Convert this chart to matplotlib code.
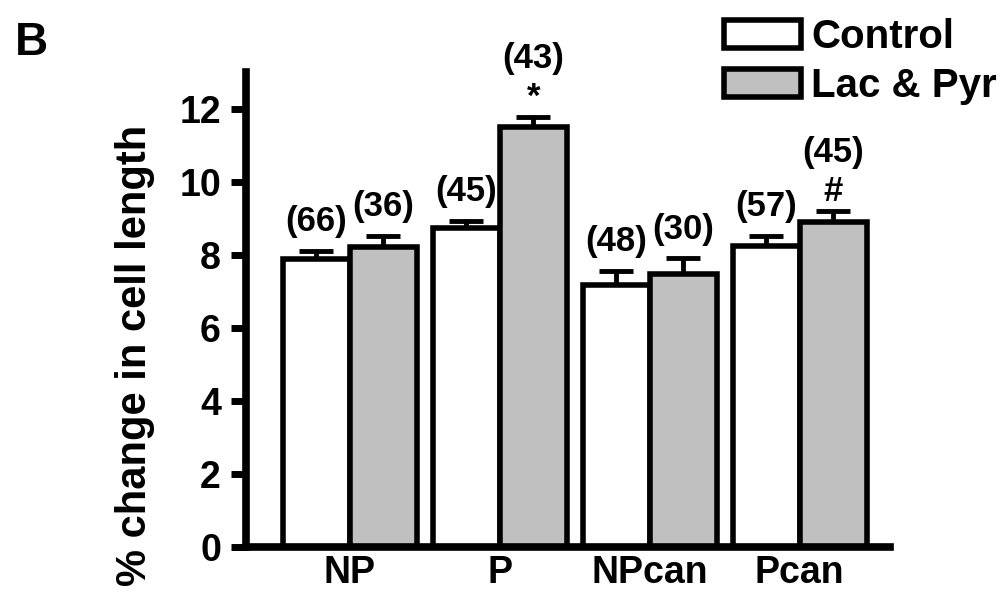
import matplotlib
matplotlib.use("Agg")
import matplotlib.pyplot as plt
import numpy as np

groups = ["NP", "P", "NPcan", "Pcan"]
control = [7.87, 8.73, 7.18, 8.24]
control_se = [0.24, 0.20, 0.38, 0.28]
lacpyr = [8.20, 11.49, 7.47, 8.88]
lacpyr_se = [0.32, 0.27, 0.43, 0.32]
n_control = ["(66)", "(45)", "(48)", "(57)"]
n_lacpyr = ["(36)", "(43)", "(30)", "(45)"]
sig_lacpyr = ["", "*", "", "#"]
yticks = [0, 2, 4, 6, 8, 10, 12]

plt.rcParams["font.family"] = ["Liberation Sans", "DejaVu Sans"]
plt.rcParams["font.weight"] = "bold"

fig = plt.figure(figsize=(10.04, 5.98), dpi=100)
ax = fig.add_axes([0.245, 0.0858, 0.641, 0.7938])

x = np.arange(len(groups))
w = 0.447
b1 = ax.bar(x - w / 2, control, w, color="white", edgecolor="black",
            linewidth=4, label="Control", zorder=2)
b2 = ax.bar(x + w / 2, lacpyr, w, color="#c0c0c0", edgecolor="black",
            linewidth=4, label="Lac & Pyr", zorder=2)

# upper error bars only
for xs, m, se in [(x - w / 2, control, control_se), (x + w / 2, lacpyr, lacpyr_se)]:
    ax.errorbar(xs, m, yerr=[np.zeros(len(m)), se], fmt="none", ecolor="black",
                elinewidth=3.5, capsize=12, capthick=3.5, zorder=1)

# n labels and significance marks
for i in range(len(groups)):
    top_c = control[i] + control_se[i]
    ax.annotate(n_control[i], (x[i] - w / 2, top_c), xytext=(0, 21),
                textcoords="offset points", ha="center", va="center", fontsize=25)
    top_l = lacpyr[i] + lacpyr_se[i]
    if sig_lacpyr[i]:
        ax.annotate(sig_lacpyr[i], (x[i] + w / 2, top_l), xytext=(0, 14),
                    textcoords="offset points", ha="center", va="center", fontsize=25)
        ax.annotate(n_lacpyr[i], (x[i] + w / 2, top_l), xytext=(0, 42),
                    textcoords="offset points", ha="center", va="center", fontsize=25)
    else:
        ax.annotate(n_lacpyr[i], (x[i] + w / 2, top_l), xytext=(0, 21),
                    textcoords="offset points", ha="center", va="center", fontsize=25)

ax.set_xlim(-0.693, 3.6)
ax.set_ylim(0, 13)
ax.set_yticks(yticks)
ax.set_xticks(x)
ax.set_xticklabels(groups)
ax.tick_params(axis="y", length=11, width=5, direction="out", labelsize=27, pad=7)
ax.tick_params(axis="x", length=0, labelsize=27, pad=6)
for s in ["top", "right"]:
    ax.spines[s].set_visible(False)
for s in ["left", "bottom"]:
    ax.spines[s].set_linewidth(5.5)

ax.set_ylabel("% change in cell length", fontsize=30, fontweight="bold")
ax.yaxis.set_label_coords(-0.141, 0.404)

ax.legend(handles=[b1, b2], loc="upper right", bbox_to_anchor=(0.993, 0.970),
          bbox_transform=fig.transFigure, frameon=False, fontsize=29,
          handlelength=1.93, handleheight=0.72, handletextpad=0.25,
          labelspacing=0.28, borderpad=0, borderaxespad=0)

fig.text(0.015, 1 - 55 / 598, "B", fontsize=33, fontweight="bold", va="baseline")

fig.savefig("out.png", dpi=100)
